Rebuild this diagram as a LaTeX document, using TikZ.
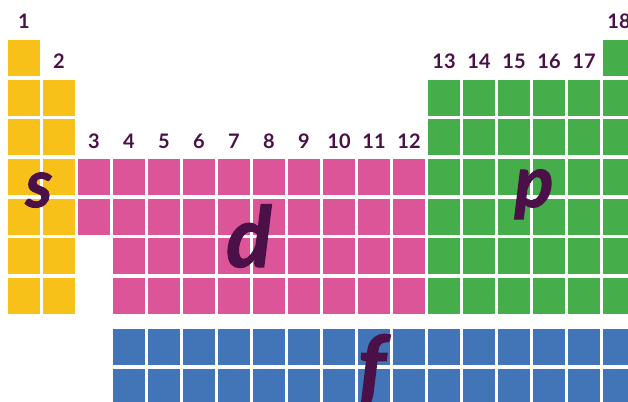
\documentclass[tikz,border=0pt]{standalone}
\usepackage{fontspec}
\setmainfont{Lato}
\newfontfamily\letterfont[BoldItalicFeatures={FakeBold=1.6}]{Lato}
\definecolor{blockS}{HTML}{F8C11A}
\definecolor{blockD}{HTML}{DD5599}
\definecolor{blockP}{HTML}{45AE4B}
\definecolor{blockF}{HTML}{4275B8}
\definecolor{labelPurple}{HTML}{4B1048}
\tikzset{
  groupnum/.style={anchor=base, inner sep=0pt, text=labelPurple,
    font=\fontsize{20}{24}\selectfont\bfseries},
  blockletter/.style={anchor=base, inner sep=0pt, text=labelPurple,
    font=\fontsize{#1}{#1}\selectfont\letterfont\bfseries\itshape},
}

\begin{document}
\begin{tikzpicture}[x=1pt, y=-1pt]
  \useasboundingbox (0,0) rectangle (628,401);
  % s-Block
  \foreach \r in {1,...,7}
    \fill[blockS] (8,{40+39.67*(\r-1)}) rectangle ++(32,36);
  \foreach \r in {2,...,7}
    \fill[blockS] (43,{40+39.67*(\r-1)}) rectangle ++(32,36);
  % d-Block
  \foreach \r in {4,5}
    \fill[blockD] (78,{40+39.67*(\r-1)}) rectangle ++(32,36);
  \foreach \c in {4,...,12}
    \foreach \r in {4,...,7}
      \fill[blockD] ({8+35*(\c-1)},{40+39.67*(\r-1)}) rectangle ++(32,36);
  % p-Block
  \foreach \c in {13,...,17}
    \foreach \r in {2,...,7}
      \fill[blockP] ({8+35*(\c-1)},{40+39.67*(\r-1)}) rectangle ++(32,36);
  \foreach \r in {1,...,7}
    \fill[blockP] (603,{40+39.67*(\r-1)}) rectangle ++(32,36);
  % f-Block
  \foreach \c in {4,...,18}
    \foreach \y in {329,368.7}
      \fill[blockF] ({8+35*(\c-1)},\y) rectangle ++(32,36);
  % Gruppennummern
  \foreach \g/\r in {1/1, 2/2, 3/4, 4/4, 5/4, 6/4, 7/4, 8/4, 9/4, 10/4,
                     11/4, 12/4, 13/2, 14/2, 15/2, 16/2, 17/2, 18/1}
    \node[groupnum] (g\g) at ({24+35*(\g-1)},{40+39.67*(\r-1)-11}) {\g};
  % Blockbuchstaben
  \node[blockletter=66] (sletter) at (39,207) {s};
  \node[blockletter=84] (dletter) at (249,267) {d};
  \node[blockletter=72] (pletter) at (534,207) {p};
  \node[blockletter=84] (fletter) at (372,396) {f};
\end{tikzpicture}
\end{document}
